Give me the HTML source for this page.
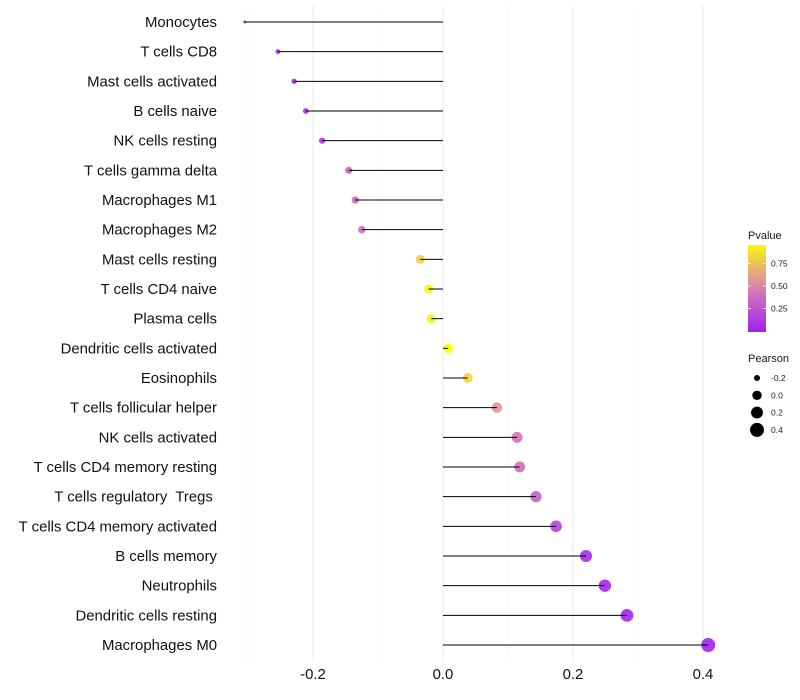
<!DOCTYPE html>
<html><head><meta charset="utf-8"><style>
body{margin:0;background:#fff;font-family:"Liberation Sans",sans-serif}
svg{display:block}
text{white-space:pre}
</style></head><body>
<svg id="chart" width="800" height="700"></svg>
<script>
const categories=["Monocytes","T cells CD8","Mast cells activated","B cells naive","NK cells resting","T cells gamma delta","Macrophages M1","Macrophages M2","Mast cells resting","T cells CD4 naive","Plasma cells","Dendritic cells activated","Eosinophils","T cells follicular helper","NK cells activated","T cells CD4 memory resting","T cells regulatory  Tregs ","T cells CD4 memory activated","B cells memory","Neutrophils","Dendritic cells resting","Macrophages M0"];
const pearson=[-0.305,-0.254,-0.229,-0.211,-0.186,-0.145,-0.135,-0.125,-0.035,-0.022,-0.018,0.008,0.038,0.083,0.114,0.118,0.143,0.174,0.220,0.249,0.283,0.408];
const pvalue=[0.02,0.05,0.06,0.06,0.15,0.35,0.38,0.40,0.82,0.94,0.95,1.0,0.82,0.58,0.42,0.40,0.32,0.17,0.06,0.04,0.03,0.02];
const xTicks=[-0.2,0.0,0.2,0.4];
const xTickLabels=["-0.2","0.0","0.2","0.4"];
const xMinor=[-0.3,-0.1,0.1,0.3];
const pTicks=[0.25,0.5,0.75];
const sizeLegend=[-0.2,0.0,0.2,0.4];

const NS="http://www.w3.org/2000/svg";
const svg=document.getElementById('chart');
function mk(t,a,p){const e=document.createElementNS(NS,t);for(const k in a)e.setAttribute(k,a[k]);(p||svg).appendChild(e);return e;}
const x=v=>443+v*650;
const y=i=>22+i*(623/21);
const r=v=>Math.sqrt(Math.max(1,22.26+65.6*v));
function lerp(a,b,t){return a.map((c,i)=>Math.round(c+(b[i]-c)*t));}
function col(p){const s=[[160,32,240],[218,130,175],[255,255,0]];const c=p<0.5?lerp(s[0],s[1],p/0.5):lerp(s[1],s[2],(p-0.5)/0.5);return `rgb(${c[0]},${c[1]},${c[2]})`;}

const grid=mk('g',{});


xMinor.forEach(v=>mk('line',{x1:x(v),x2:x(v),y1:5,y2:662,stroke:'#f4f4f4','stroke-width':0.6},grid));
xTicks.forEach(v=>mk('line',{x1:x(v),x2:x(v),y1:5,y2:662,stroke:'#ebebeb','stroke-width':1},grid));

categories.forEach((c,i)=>{
  const g=mk('g',{});
  
  
  mk('circle',{cx:x(pearson[i]),cy:y(i),r:r(pearson[i]),fill:col(pvalue[i]),'fill-opacity':0.9},g);
  mk('line',{x1:x(pearson[i]),x2:x(0),y1:y(i),y2:y(i),stroke:'#000','stroke-width':1},g);
  const t=mk('text',{x:217,y:y(i)+5,'text-anchor':'end','font-size':14.9,fill:'#111'});
  t.textContent=c;
  
  
});
xTicks.forEach((v,i)=>{
  const t=mk('text',{x:x(v),y:679,'text-anchor':'middle','font-size':14.9,fill:'#111'});
  t.textContent=xTickLabels[i];
  
  
});

const lg=mk('g',{});


const defs=mk('defs',{});
const gr=mk('linearGradient',{id:'pg',x1:0,y1:1,x2:0,y2:0},defs);
[0,0.25,0.5,0.75,1].forEach(p=>mk('stop',{offset:p,'stop-color':col(p*0.96)},gr));
let t=mk('text',{x:748,y:239,'font-size':11,fill:'#1a1a1a'},lg);t.textContent='Pvalue';
mk('rect',{x:748,y:245,width:18,height:87,fill:'url(#pg)'},lg);
const py=p=>331-p*90;
pTicks.forEach(p=>{
  mk('line',{x1:748,x2:751,y1:py(p),y2:py(p),stroke:'#fff','stroke-width':0.8},lg);
  mk('line',{x1:763,x2:766,y1:py(p),y2:py(p),stroke:'#fff','stroke-width':0.8},lg);
  const tt=mk('text',{x:771,y:py(p)+3,'font-size':8.5,fill:'#1a1a1a'},lg);tt.textContent=p.toFixed(2);
});
const sg=mk('g',{});


t=mk('text',{x:748,y:362,'font-size':11,fill:'#1a1a1a'},sg);t.textContent='Pearson';
sizeLegend.forEach((v,i)=>{
  const cy=378+i*17.3;
  mk('circle',{cx:757,cy:cy,r:r(v),fill:'#000'},sg);
  const tt=mk('text',{x:771,y:cy+3,'font-size':8.5,fill:'#1a1a1a'},sg);tt.textContent=v.toFixed(1);
});
</script>
</body></html>
